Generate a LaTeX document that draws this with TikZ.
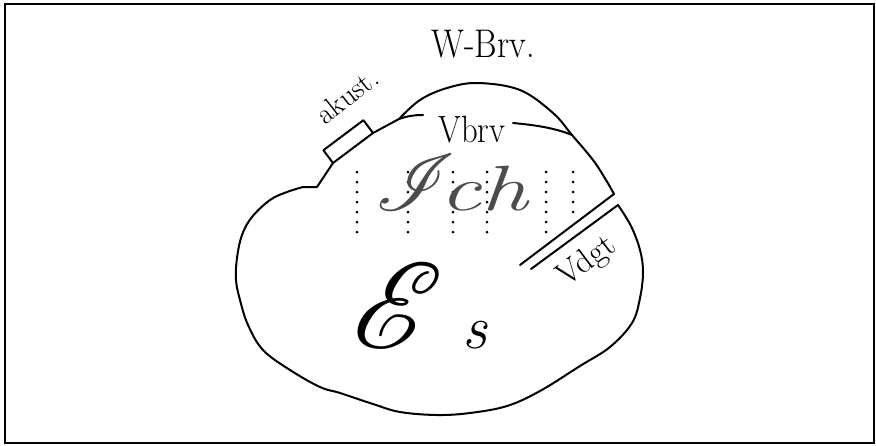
\documentclass[tikz,border=0pt]{standalone}
\usepackage{fontspec}
\DeclareFontFamily{U}{myrsfs}{\skewchar\font127 }
\DeclareFontShape{U}{myrsfs}{m}{n}{<-> rsfs10}{}
\newcommand\scrfont{\usefont{U}{myrsfs}{m}{n}}
\begin{document}
\begin{tikzpicture}[x=1pt,y=-1pt,
  outline/.style={line width=2pt, line join=round, line cap=round},
  dotline/.style={line width=3pt, dash pattern=on 0pt off 10pt, line cap=round},
  lbl/.style={inner sep=0pt, text=black},
  scriptlbl/.style={inner sep=0pt, text=black!70}]
\useasboundingbox (0,0) rectangle (876,445);
\draw[line width=2pt] (5,4) rectangle (874,443);

% dotted lines in the Ich region
\foreach \x/\e in {357/238, 408/238, 453/239, 487/239, 546/238, 573/218}
  \draw[dotline] (\x,172) -- (\x,\e);

% main outline (lower part)
\draw[outline] plot[smooth, tension=0.6] coordinates {(618,205) (631,226) (640,250) (643,272) (640,298) (632,323) (610,347) (580,366) (540,391) (507,406) (470,413) (437,415) (400,412) (373,404) (340,393) (320,387) (290,370) (263,350) (248,325) (240,300) (236,280) (237,258) (242,235) (252,217) (270,200) (287,192) (303,187)};
\draw[outline] (303,187) -- (317,187) -- (333,163) -- (373,133) -- (399,119);
% W-Bw bulge
\draw[outline] plot[smooth, tension=0.6] coordinates {(399,119) (420,100) (447,88) (478,83) (520,90) (553,113) (572,135) (593,160) (606,180) (614,194)};
% two parallel lines (Vdgt)
\draw[outline] (614,194) -- (520,265);
\draw[outline] (531,269) -- (618,205);
% inner strokes (Vbw boundary)
\draw[outline] (399,119) .. controls (407,116) and (415,115) .. (423,115);
\draw[outline] (513,123) .. controls (535,125) and (555,128) .. (572,135);
% akust. box
\draw[outline] (333,163) -- (323.4,150.2) -- (363.4,120.2) -- (373,133);

% labels
\node[lbl, anchor=base, font=\fontsize{40}{40}\selectfont\addfontfeature{FakeBold=1}, xscale=0.86] (wbw) at (483,57) {W-Brv.};
\node[lbl, anchor=base, font=\fontsize{38}{38}\selectfont\addfontfeature{FakeBold=1}, xscale=0.86] (vbw) at (472,142) {Vbrv};
\node[lbl, rotate=38, font=\fontsize{29}{29}\selectfont\addfontfeature{FakeBold=1}] (akust) at (347,96) {akust.};
\node[lbl, rotate=37, font=\fontsize{33}{33}\selectfont\addfontfeature{FakeBold=1}] (vdgt) at (587,262) {Vdgt};
\node[scriptlbl, anchor=base west] (ich) at (375,210) {{\fontsize{80}{80}\scrfont I}\scalebox{1.45}[1]{\fontsize{64}{64}\selectfont\itshape ch}};
\node[lbl, anchor=base west] (es) at (352,348) {{\fontsize{122}{122}\scrfont E}\hspace{42pt}{\fontsize{62}{62}\selectfont\itshape s}};
\end{tikzpicture}
\end{document}
